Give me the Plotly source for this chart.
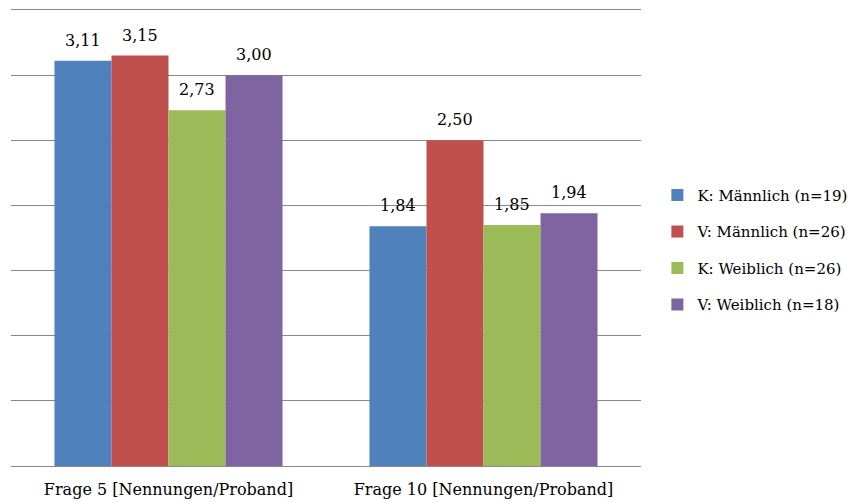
import plotly.graph_objects as go

# Mittelwerte der Nennungen pro Proband, je Frage und Gruppe
categories = ["Frage 5 [Nennungen/Proband]", "Frage 10 [Nennungen/Proband]"]
series_names = [
    "K: Männlich (n=19)",
    "V: Männlich (n=26)",
    "K: Weiblich (n=26)",
    "V: Weiblich (n=18)",
]
values_k_m = [3.11, 1.84]
values_v_m = [3.15, 2.50]
values_k_w = [2.73, 1.85]
values_v_w = [3.00, 1.94]
series_values = [values_k_m, values_v_m, values_k_w, values_v_w]
colors = ["#4F81BD", "#C0504D", "#9BBB59", "#8064A2"]

FONT = "DejaVu Serif"
BARGAP = 0.276

fig = go.Figure()
for i, (name, vals, col) in enumerate(zip(series_names, series_values, colors)):
    fig.add_trace(go.Bar(
        name=name,
        x=list(range(len(categories))),
        y=vals,
        marker=dict(color=col, line=dict(width=0)),
        legendgroup=f"g{i}",
    ))

# Wertebeschriftungen über den Balken (Dezimalkomma)
n = len(series_values)
bar_w = (1 - BARGAP) / n
for i, vals in enumerate(series_values):
    offset = (i - (n - 1) / 2) * bar_w
    for j, v in enumerate(vals):
        fig.add_annotation(
            x=j + offset, y=v, xref="x", yref="y",
            text=f"{v:.2f}".replace(".", ","),
            showarrow=False, yanchor="bottom", yshift=9,
            font=dict(family=FONT, size=16, color="#000000"),
        )

fig.update_layout(
    width=859, height=502,
    margin=dict(l=11, r=218, t=10, b=36, autoexpand=False),
    paper_bgcolor="white", plot_bgcolor="white",
    barmode="group", bargap=BARGAP, bargroupgap=0,
    font=dict(family=FONT, size=16, color="#000000"),
    showlegend=True,
    legend=dict(
        x=1.026, xanchor="left", xref="paper",
        y=0.474, yanchor="middle",
        tracegroupgap=14, itemwidth=30,
        font=dict(family=FONT, size=15, color="#000000"),
    ),
)
fig.update_xaxes(
    tickmode="array", tickvals=list(range(len(categories))), ticktext=categories,
    range=[-0.5, len(categories) - 0.5],
    showline=True, mirror=True, linecolor="#888888", linewidth=1,
    showgrid=False, ticks="", zeroline=False,
    ticklabelstandoff=9,
    tickfont=dict(family=FONT, size=16),
)
fig.update_yaxes(
    range=[0, 3.5], dtick=0.5, showticklabels=False,
    showgrid=True, gridcolor="#888888", gridwidth=1,
    zeroline=False, showline=False,
)

fig.write_html("out.html")
